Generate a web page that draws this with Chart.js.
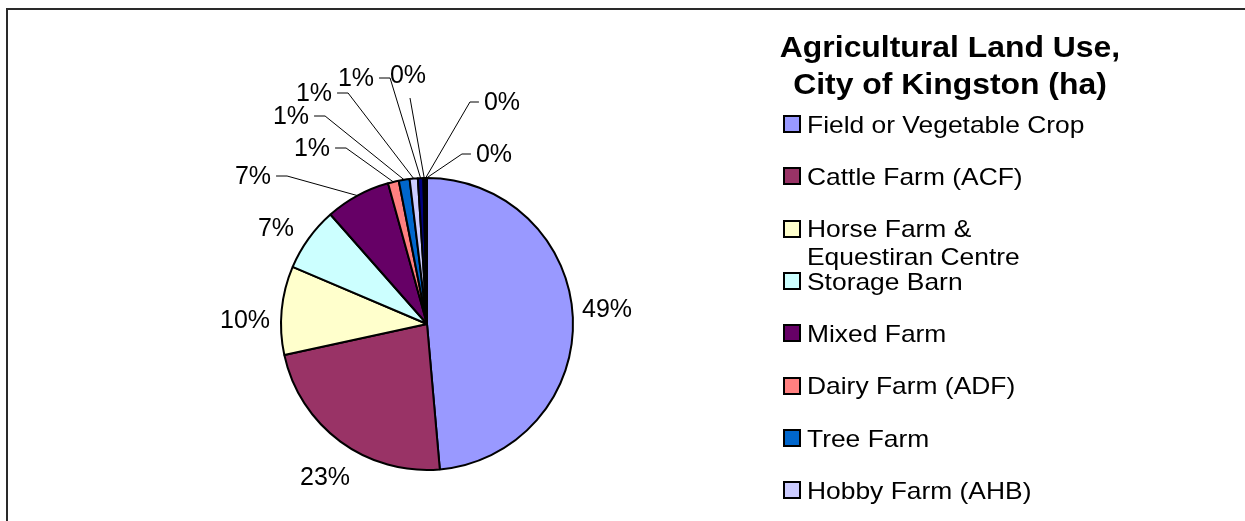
<!DOCTYPE html>
<html>
<head>
<meta charset="utf-8">
<script src="https://cdn.jsdelivr.net/npm/chart.js@4"></script>
<style>
  html, body { margin: 0; padding: 0; width: 1245px; height: 521px; overflow: hidden; background: #fff; }
  body { position: relative; font-family: "Liberation Sans", Arial, sans-serif; color: #000; }
  #frame { position: absolute; left: 6px; top: 8px; width: 1250px; height: 600px;
           border-left: 2px solid #2a2a2a; border-top: 2px solid #2a2a2a; }
  #pieChart { position: absolute; left: 0; top: 0; }
  #title { position: absolute; left: 700px; top: 29px; width: 500px; text-align: center;
           font-weight: bold; font-size: 29px; line-height: 37px; transform: scaleX(1.1); transform-origin: center; }
  .item { position: absolute; left: 783px; }
  .box { position: absolute; left: 0; width: 18px; height: 18px; box-sizing: border-box; border: 2px solid #000; }
  .txt { position: absolute; left: 24px; font-size: 24px; line-height: 28px; white-space: nowrap;
         transform: scaleX(1.1); transform-origin: left; }
</style>
</head>
<body>
<div id="frame"></div>
<canvas id="pieChart" width="1245" height="521"></canvas>
<div id="title">Agricultural Land Use,<br>City of Kingston (ha)</div>
<div id="legend"></div>
<script>
// categories (the last four are cut off at the bottom of the legend)
const categories = [
    "Field or Vegetable Crop",
    "Cattle Farm (ACF)",
    ["Horse Farm &", "Equestiran Centre"],
    "Storage Barn",
    "Mixed Farm",
    "Dairy Farm (ADF)",
    "Tree Farm",
    "Hobby Farm (AHB)",
    "Poultry Farm",
    "Nursery",
    "Sheep Farm",
    "Other"
];

// land area in hectares, estimated from the slices
const hectares = [3888, 1840, 784, 568, 576, 96, 96, 72, 48, 16, 8, 8];

const sliceColors = [
    "#9999FF", "#993366", "#FFFFCC", "#CCFFFF", "#660066", "#FF8080",
    "#0066CC", "#CCCCFF", "#000080", "#FF00FF", "#FFFF00", "#00FFFF"
];

// label placement relative to the pie centre, and how the leader line leaves the label
const labelOffsets = [
    [180, -15], [-102, 153], [-182, -4], [-151, -96], [-174, -148], [-115, -176],
    [-136, -208], [-113, -231], [-71, -246], [-19, -249], [75, -222], [67, -170]
];
const leaderTypes = ["", "", "", "", "L", "L", "L", "L", "L", "B", "R", "R"];

const FONT = '"Liberation Sans", Arial, sans-serif';
Chart.defaults.font.family = FONT;

const percentLabels = {
    id: "percentLabels",
    afterDatasetsDraw(chart) {
        let ctx = chart.ctx;
        let meta = chart.getDatasetMeta(0);
        let data = chart.data.datasets[0].data;
        let total = data.reduce(function (a, b) { return a + b; }, 0);

        ctx.save();
        ctx.font = "25px " + FONT;
        ctx.fillStyle = "#000";
        ctx.strokeStyle = "#000";
        ctx.lineWidth = 1;
        ctx.textAlign = "center";
        ctx.textBaseline = "middle";

        meta.data.forEach(function (arc, i) {
            let p = arc.getProps(["x", "y", "startAngle", "endAngle", "outerRadius"], true);
            let text = Math.round(data[i] / total * 100) + "%";
            let lx = p.x + labelOffsets[i][0];
            let ly = p.y + labelOffsets[i][1];
            let halfW = ctx.measureText(text).width / 2;

            let mid = (p.startAngle + p.endAngle) / 2;
            let ax = p.x + Math.cos(mid) * p.outerRadius;
            let ay = p.y + Math.sin(mid) * p.outerRadius;

            let type = leaderTypes[i];
            if (type) {
                ctx.beginPath();
                if (type === "L") {
                    ctx.moveTo(lx + halfW + 5, ly);
                    ctx.lineTo(lx + halfW + 16, ly);
                } else if (type === "R") {
                    ctx.moveTo(lx - halfW - 5, ly);
                    ctx.lineTo(lx - halfW - 14, ly);
                } else {
                    ctx.moveTo(lx + 2, ly + 23);
                }
                ctx.lineTo(ax, ay);
                ctx.stroke();
            }
            ctx.fillText(text, lx, ly + 1);
        });
        ctx.restore();
    }
};

let chart = new Chart(document.getElementById("pieChart"), {
    type: "pie",
    data: {
        labels: categories,
        datasets: [{
            data: hectares,
            backgroundColor: sliceColors,
            borderColor: "#000",
            borderWidth: 2,
            radius: 146
        }]
    },
    options: {
        responsive: false,
        animation: false,
        events: [],
        layout: { padding: { left: 250, right: 641, top: 150, bottom: 23 } },
        plugins: {
            legend: { display: false },
            tooltip: { enabled: false }
        }
    },
    plugins: [percentLabels]
});

// legend built from the chart's own labels and colours
let legend = document.getElementById("legend");
chart.data.labels.forEach(function (label, i) {
    let cy = 124 + i * 52.3;
    let item = document.createElement("div");
    item.className = "item";
    item.style.top = (cy - 9) + "px";

    let box = document.createElement("div");
    box.className = "box";
    box.style.top = "0px";
    box.style.background = chart.data.datasets[0].backgroundColor[i];

    let txt = document.createElement("div");
    txt.className = "txt";
    txt.style.top = (9 - 13.3) + "px";
    txt.innerHTML = Array.isArray(label) ? label.join("<br>") : label;

    item.appendChild(box);
    item.appendChild(txt);
    legend.appendChild(item);
});
</script>
</body>
</html>
